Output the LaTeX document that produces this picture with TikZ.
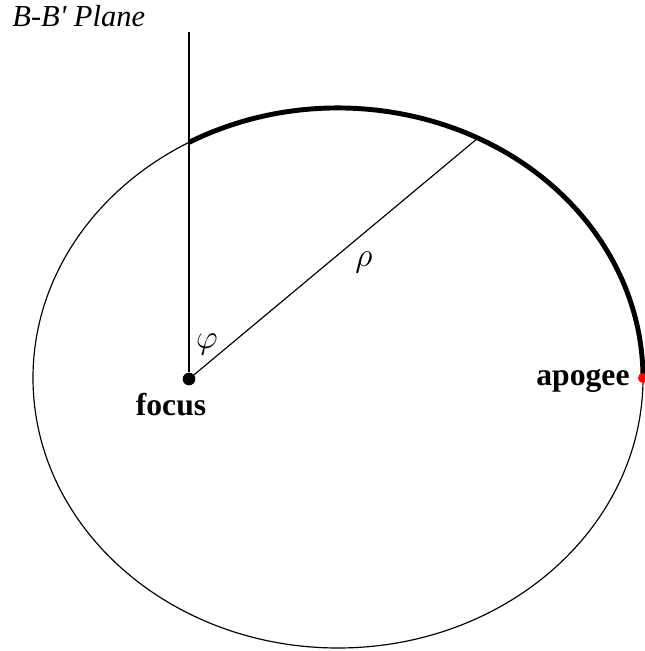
\documentclass[tikz,border=0pt]{standalone}
\usepackage{fontspec}
\setmainfont{Liberation Serif}
\usetikzlibrary{positioning}

\begin{document}
\begin{tikzpicture}[x=0.015cm, y=0.015cm,
  orbit/.style={line width=0.5pt},
  burn/.style={line width=2.1pt},
  lbl/.style={font=\fontsize{13.5}{16}\selectfont\bfseries, inner sep=0pt},
  dot/.style={circle, fill, inner sep=0pt, minimum size=0.19cm}]
\useasboundingbox (0,0) rectangle (644,651);

% ---------- orbit ellipse ----------
\coordinate (centre) at (338,273);
\draw[orbit] (centre) ellipse[x radius=305, y radius=270];
\coordinate (cross) at (189,508.6);
\coordinate (rim) at (477.9,512.9);
\draw[burn] (cross) arc[start angle=119.24, end angle=0, x radius=305, y radius=270];

% ---------- focus, plane and radius ----------
\node[dot] (focus) at (189,272) {};
\node[lbl, anchor=north] (focuslbl) at (171,258) {focus};
\coordinate (planetop) at (189,619);
\draw[line width=0.6pt] (focus) -- (planetop);
\node[font=\fontsize{13}{15}\selectfont\itshape, anchor=base west, inner sep=0pt] (plane) at (12,624) {B-B\textquotesingle{} Plane};
\draw[orbit] (focus.center) -- (rim);
\node[font=\fontsize{15}{17}\selectfont] (phi) at (207,306) {$\varphi$};
\node[font=\fontsize{14}{16}\selectfont] (rho) at (364,388) {$\rho$};

% ---------- apogee ----------
\node[dot, fill=red, minimum size=0.15cm] (apogee) at (643,273) {};
\node[lbl, anchor=base east] (apolbl) at (630,265) {apogee};
\end{tikzpicture}
\end{document}
